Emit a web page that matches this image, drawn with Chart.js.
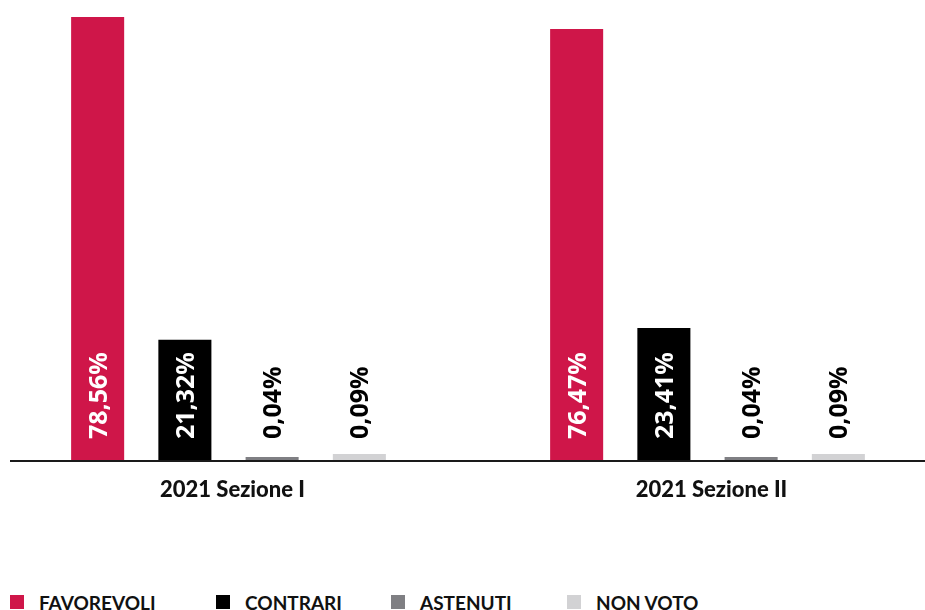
<!DOCTYPE html>
<html>
<head>
<meta charset="utf-8">
<script src="https://cdn.jsdelivr.net/npm/chart.js@4.4.1/dist/chart.umd.min.js"></script>
<style>
  html, body { margin: 0; padding: 0; background: #fff; }
  body { width: 925px; height: 610px; position: relative; overflow: hidden; }
  #wrap { position: absolute; left: -11px; top: 0; width: 958px; height: 510px; }
  #legend { position: absolute; left: 10px; top: 592px; display: flex; font-family: Lato, sans-serif; font-weight: 700; font-size: 19px; color: #111; white-space: nowrap; }
  #legend .item { display: flex; align-items: flex-start; }
  #legend .item:nth-child(1) { width: 206px; }
  #legend .item:nth-child(2) { width: 175px; }
  #legend .item:nth-child(3) { width: 176px; }
  #legend .box { width: 14px; height: 14px; margin-top: 3px; margin-right: 15px; }
  #legend .txt { line-height: 22.8px; }
</style>
</head>
<body>
<div id="wrap"><canvas id="c"></canvas></div>
<div id="legend"></div>
<script>
// ---- data ----
const categories = ['2021 Sezione I', '2021 Sezione II'];
const seriesNames = ['FAVOREVOLI', 'CONTRARI', 'ASTENUTI', 'NON VOTO'];
const favorevoli = [78.56, 76.47];
const contrari = [21.32, 23.41];
const astenuti = [0.04, 0.04];
const nonVoto = [0.09, 0.09];

// ---- styles ----
const seriesColors = ['#CF1649', '#000000', '#7F7F83', '#D2D2D4'];
const labelColors = ['#ffffff', '#ffffff', '#000000', '#000000'];
const minLengths = [0, 0, 3, 6];
const seriesValues = [favorevoli, contrari, astenuti, nonVoto];

const fmt = v => v.toFixed(2).replace('.', ',') + '%';

const valueLabels = {
  id: 'valueLabels',
  afterDatasetsDraw(chart) {
    const ctx = chart.ctx;
    const bottom = chart.chartArea.bottom;
    ctx.save();
    ctx.font = '700 25px "Open Sans", sans-serif';
    ctx.textAlign = 'left';
    ctx.textBaseline = 'alphabetic';
    chart.data.datasets.forEach((ds, i) => {
      const meta = chart.getDatasetMeta(i);
      meta.data.forEach((bar, j) => {
        ctx.save();
        ctx.fillStyle = labelColors[i];
        ctx.translate(bar.x + 9, bottom - 21);
        ctx.rotate(-Math.PI / 2);
        ctx.fillText(fmt(ds.data[j]), 0, 0);
        ctx.restore();
      });
    });
    ctx.restore();
  }
};

const axisLine = {
  id: 'axisLine',
  afterDatasetsDraw(chart) {
    const ctx = chart.ctx;
    const y = chart.chartArea.bottom + 1;
    ctx.save();
    ctx.strokeStyle = '#1a1a1a';
    ctx.lineWidth = 2;
    ctx.beginPath();
    ctx.moveTo(21, y);
    ctx.lineTo(958, y);
    ctx.stroke();
    ctx.restore();
  }
};

new Chart(document.getElementById('c'), {
  type: 'bar',
  data: {
    labels: categories,
    datasets: seriesNames.map((name, i) => ({
      label: name,
      data: seriesValues[i],
      backgroundColor: seriesColors[i],
      borderWidth: 0,
      minBarLength: minLengths[i],
      categoryPercentage: 0.7285,
      barPercentage: 0.608
    }))
  },
  options: {
    responsive: true,
    maintainAspectRatio: false,
    animation: false,
    layout: { padding: { top: 9, left: 0, right: 0, bottom: 0 } },
    plugins: { legend: { display: false }, tooltip: { enabled: false } },
    scales: {
      x: {
        grid: { display: false, drawTicks: false },
        border: { display: false },
        ticks: {
          color: '#111',
          font: { family: 'Lato', weight: '900', size: 22 },
          padding: 17,
          labelOffset: 4
        },
        afterFit: s => { s.height = 50; }
      },
      y: { display: false, min: 0, max: 80 }
    }
  },
  plugins: [valueLabels, axisLine]
});

const legend = document.getElementById('legend');
seriesNames.forEach((name, i) => {
  const item = document.createElement('div');
  item.className = 'item';
  const box = document.createElement('div');
  box.className = 'box';
  box.style.background = seriesColors[i];
  const txt = document.createElement('div');
  txt.className = 'txt';
  txt.textContent = name;
  item.appendChild(box);
  item.appendChild(txt);
  legend.appendChild(item);
});
</script>
</body>
</html>
